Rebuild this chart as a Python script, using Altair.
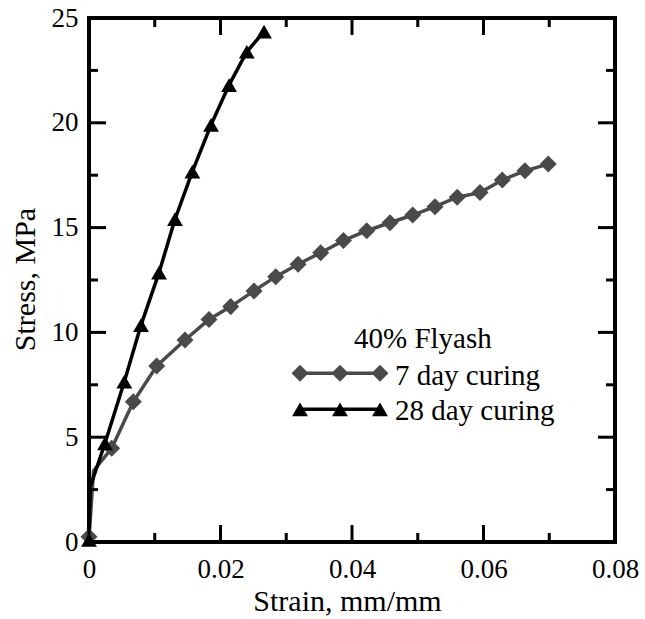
import altair as alt
import pandas as pd

# ---------------- data ----------------
series_names = ["7 day curing", "28 day curing"]
series_colors = ["#4a4a4a", "#000000"]
series_shapes = ["diamond", "triangle-up"]
series_sizes = [290, 250]

# 7 day curing (marker = 1 where a symbol is drawn)
strain_7 = [0.0, 0.0007, 0.00345, 0.00674, 0.0103, 0.0146, 0.01825, 0.02155, 0.0251,
            0.0284, 0.0318, 0.03524, 0.0387, 0.04224, 0.04578, 0.04923, 0.05262,
            0.0560, 0.05947, 0.06286, 0.0663, 0.06985]
stress_7 = [0.25, 3.4, 4.47, 6.69, 8.40, 9.64, 10.62, 11.23, 11.98,
            12.66, 13.25, 13.80, 14.38, 14.85, 15.23, 15.60, 16.0,
            16.45, 16.67, 17.27, 17.71, 18.03]
marker_7 = [1, 0, 1, 1, 1, 1, 1, 1, 1, 1, 1, 1, 1, 1, 1, 1, 1, 1, 1, 1, 1, 1]

# 28 day curing
strain_28 = [0.0, 0.0002, 0.00243, 0.00537, 0.00791, 0.01065, 0.01308, 0.01572,
             0.01856, 0.0213, 0.0240, 0.02662]
stress_28 = [0.1, 2.64, 4.71, 7.65, 10.35, 12.85, 15.40, 17.67,
             19.9, 21.8, 23.39, 24.35]
marker_28 = [1, 0, 1, 1, 1, 1, 1, 1, 1, 1, 1, 1]

x_major_ticks = [0, 0.02, 0.04, 0.06, 0.08]
x_minor_ticks = [0.01, 0.03, 0.05, 0.07]
y_major_ticks = [0, 5, 10, 15, 20, 25]
y_minor_ticks = [2.5, 7.5, 12.5, 17.5, 22.5]

legend_title = "40% Flyash"
legend_title_pos = [0.0403, 9.26]
legend_marker_x = [0.03209, 0.03817, 0.04426]
legend_row_y = [8.05, 6.33]
legend_label_x = 0.04654
legend_label_y = [7.49, 5.82]

# ---------------- tables ----------------
rows = []
for s, e, m in zip(strain_7, stress_7, marker_7):
    rows.append({"series": series_names[0], "strain": s, "stress": e, "marker": m})
for s, e, m in zip(strain_28, stress_28, marker_28):
    rows.append({"series": series_names[1], "strain": s, "stress": e, "marker": m})
df = pd.DataFrame(rows)

leg_rows = []
for name, ry in zip(series_names, legend_row_y):
    for lx in legend_marker_x:
        leg_rows.append({"series": name, "lx": lx, "ly": ry})
leg_df = pd.DataFrame(leg_rows)
leg_text_df = pd.DataFrame({
    "label": [legend_title] + series_names,
    "lx": [legend_title_pos[0], legend_label_x, legend_label_x],
    "ly": [legend_title_pos[1]] + legend_label_y,
})

W, H = 526, 524
FONT = "Liberation Serif, Times New Roman, Times, DejaVu Serif, serif"

xscale = alt.Scale(domain=[0, 0.08], nice=False, zero=False)
yscale = alt.Scale(domain=[0, 25], nice=False, zero=False)

color = alt.Color("series:N", scale=alt.Scale(domain=series_names, range=series_colors), legend=None)
shape = alt.Shape("series:N", scale=alt.Scale(domain=series_names, range=series_shapes), legend=None)
size = alt.Size("series:O", scale=alt.Scale(domain=series_names, range=series_sizes), legend=None)

x_axis = alt.Axis(values=x_major_ticks, format=".2~f", title="Strain, mm/mm",
                  domain=False, ticks=False, tickSize=0, grid=False,
                  labelFlush=False, labelOverlap=False,
                  labelPadding=35, labelBaseline="alphabetic",
                  titleX=258, titleY=68, titleBaseline="alphabetic")
y_axis = alt.Axis(values=y_major_ticks, format="d", title="Stress, MPa",
                  domain=False, ticks=False, tickSize=0, grid=False,
                  labelFlush=False, labelOverlap=False,
                  labelPadding=11, labelBaseline="middle",
                  titleX=-55, titleY=261, titleBaseline="alphabetic", titleAngle=270)

lines = alt.Chart(df).mark_line(strokeWidth=3.5).encode(
    x=alt.X("strain:Q", scale=xscale, axis=x_axis),
    y=alt.Y("stress:Q", scale=yscale, axis=y_axis),
    color=color,
)
points = alt.Chart(df).transform_filter("datum.marker == 1").mark_point(
    filled=True, opacity=1, strokeWidth=0
).encode(
    x=alt.X("strain:Q", scale=xscale),
    y=alt.Y("stress:Q", scale=yscale),
    color=color, shape=shape, size=size,
)

def xticks(vals, length):
    d = pd.DataFrame({"v": vals})
    bottom = alt.Chart(d).mark_rule(color="black", strokeWidth=3).encode(
        x=alt.X("v:Q", scale=xscale), y=alt.value(H), y2=alt.value(H - length))
    top = alt.Chart(d).mark_rule(color="black", strokeWidth=3).encode(
        x=alt.X("v:Q", scale=xscale), y=alt.value(0), y2=alt.value(length))
    return [bottom, top]

def yticks(vals, length):
    d = pd.DataFrame({"v": vals})
    left = alt.Chart(d).mark_rule(color="black", strokeWidth=3).encode(
        y=alt.Y("v:Q", scale=yscale), x=alt.value(0), x2=alt.value(length))
    right = alt.Chart(d).mark_rule(color="black", strokeWidth=3).encode(
        y=alt.Y("v:Q", scale=yscale), x=alt.value(W), x2=alt.value(W - length))
    return [left, right]

tick_layers = xticks(x_major_ticks, 17) + xticks(x_minor_ticks, 9) + \
    yticks(y_major_ticks, 17) + yticks(y_minor_ticks, 9)

leg_lines = alt.Chart(leg_df).mark_line(strokeWidth=3.5).encode(
    x=alt.X("lx:Q", scale=xscale), y=alt.Y("ly:Q", scale=yscale), color=color)
leg_points = alt.Chart(leg_df).mark_point(filled=True, opacity=1, strokeWidth=0).encode(
    x=alt.X("lx:Q", scale=xscale), y=alt.Y("ly:Q", scale=yscale),
    color=color, shape=shape, size=size)
leg_text = alt.Chart(leg_text_df).mark_text(
    align="left", baseline="alphabetic", font=FONT, fontSize=29, color="black"
).encode(x=alt.X("lx:Q", scale=xscale), y=alt.Y("ly:Q", scale=yscale), text="label:N")

chart = alt.layer(
    lines, points, *tick_layers, leg_lines, leg_points, leg_text
).properties(
    width=W, height=H,
    autosize=alt.AutoSizeParams(type="none"),
    padding={"left": 89, "top": 18, "right": 30, "bottom": 77},
    background="white",
).configure_view(
    stroke="black", strokeWidth=4
).configure_axis(
    labelFont=FONT, labelFontSize=27, labelColor="black",
    titleFont=FONT, titleFontSize=30, titleFontWeight="normal", titleColor="black",
).configure_text(font=FONT)

chart.save("out.html", embed_options={"renderer": "svg", "actions": False})
